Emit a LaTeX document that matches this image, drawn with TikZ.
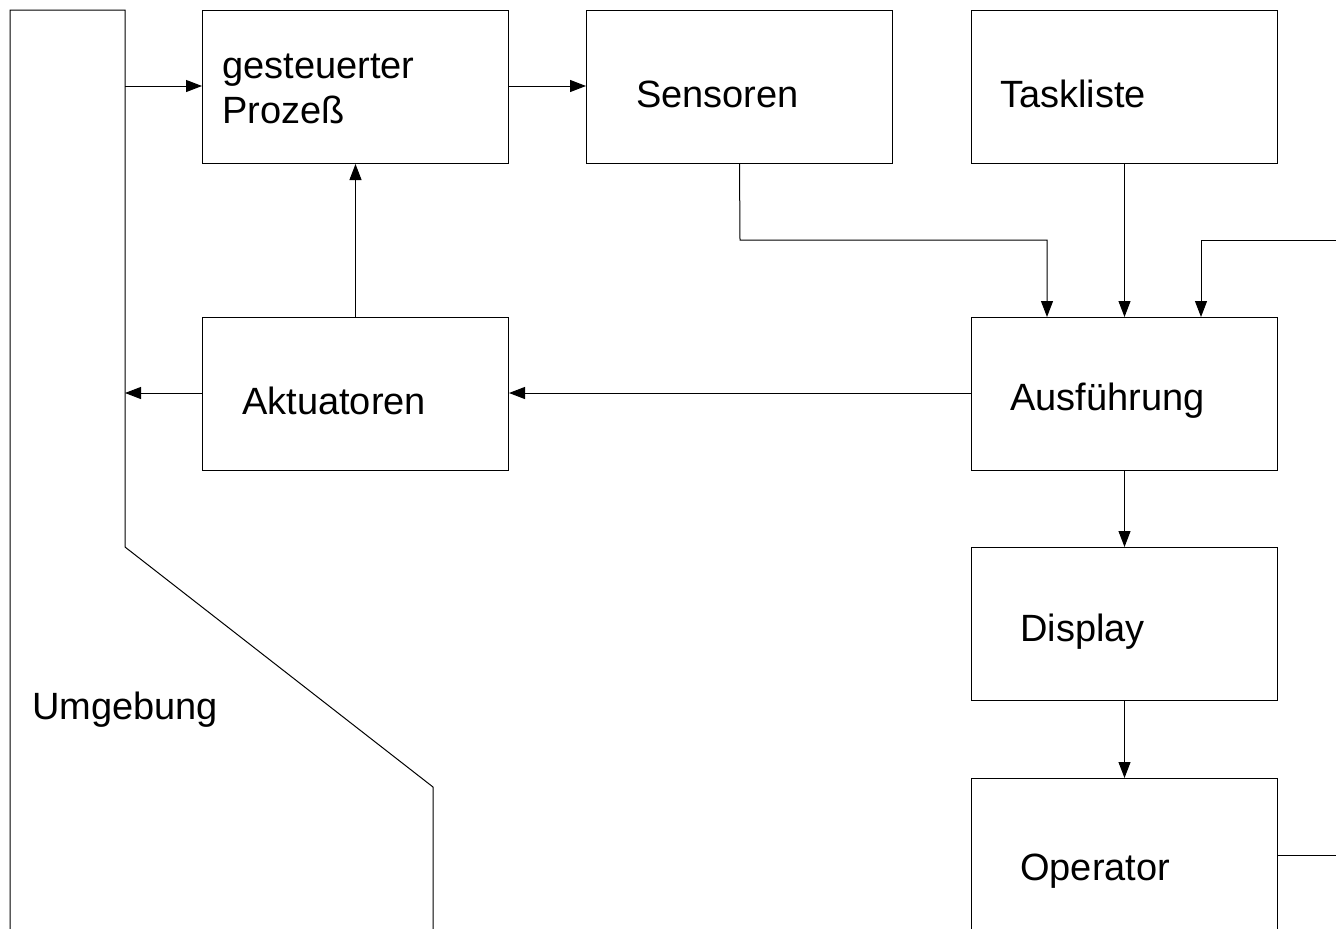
\documentclass[tikz,border=0pt]{standalone}
\usepackage{fontspec}
\setmainfont{Liberation Sans}
\usetikzlibrary{arrows.meta}
\begin{document}
\begin{tikzpicture}[x=1pt,y=-1pt,
  box/.style={draw,line width=1pt,minimum width=306pt,minimum height=153pt,inner sep=0pt,anchor=north west},
  lbl/.style={anchor=west,inner sep=0pt,font=\fontsize{38}{45}\selectfont,align=left},
  conn/.style={line width=1pt,-{Triangle[length=16pt,width=12pt]}},
  plain/.style={line width=1pt}]
\clip (0,0) rectangle (1336,929);
\fill[white] (0,0) rectangle (1336,929);
% Umgebung outline
\draw[plain] (10,929) -- (10,10) -- (125,10) -- (125,547) -- (433,787) -- (433,929);
\node[lbl] (umg) at (32,710) {Umgebung};
% boxes
\node[box] (proz) at (202,10) {};
\node[box] (sens) at (586,10) {};
\node[box] (task) at (971,10) {};
\node[box] (akt) at (202,317) {};
\node[box] (ausf) at (971,317) {};
\node[box] (disp) at (971,547) {};
\node[box] (oper) at (971,778) {};
% labels
\node[lbl] (tproz) at (222,89) {gesteuerter\\Prozeß};
\node[lbl] (tsens) at (636,94) {Sensoren};
\node[lbl] (ttask) at (1000,94) {Taskliste};
\node[lbl] (takt) at (242,401) {Aktuatoren};
\node[lbl] (tausf) at (1010,401) {Ausführung};
\node[lbl] (tdisp) at (1020,632) {Display};
\node[lbl] (toper) at (1020,871) {Operator};
% coordinates
\coordinate (envin) at (125,86);
\coordinate (envout) at (125,393);
\coordinate (rtop) at (1336,240);
\coordinate (rbot) at (1336,855);
% connectors
\draw[conn] (envin) -- (proz.west |- envin);
\draw[conn] (proz.east |- envin) -- (sens.west |- envin);
\draw[conn] (akt.north) -- (proz.south);
\draw[conn] (ausf.west |- envout) -- (akt.east |- envout);
\draw[conn] (akt.west |- envout) -- (envout);
\draw[conn] (sens.south) -- (740,240) -- (1047,240) -- (1047,317);
\draw[conn] (task.south) -- (ausf.north);
\draw[conn] (rtop) -- (1201,240) -- (1201,317);
\draw[conn] (ausf.south) -- (disp.north);
\draw[conn] (disp.south) -- (oper.north);
\draw[plain] (oper.east |- rbot) -- (rbot);
\end{tikzpicture}
\end{document}
